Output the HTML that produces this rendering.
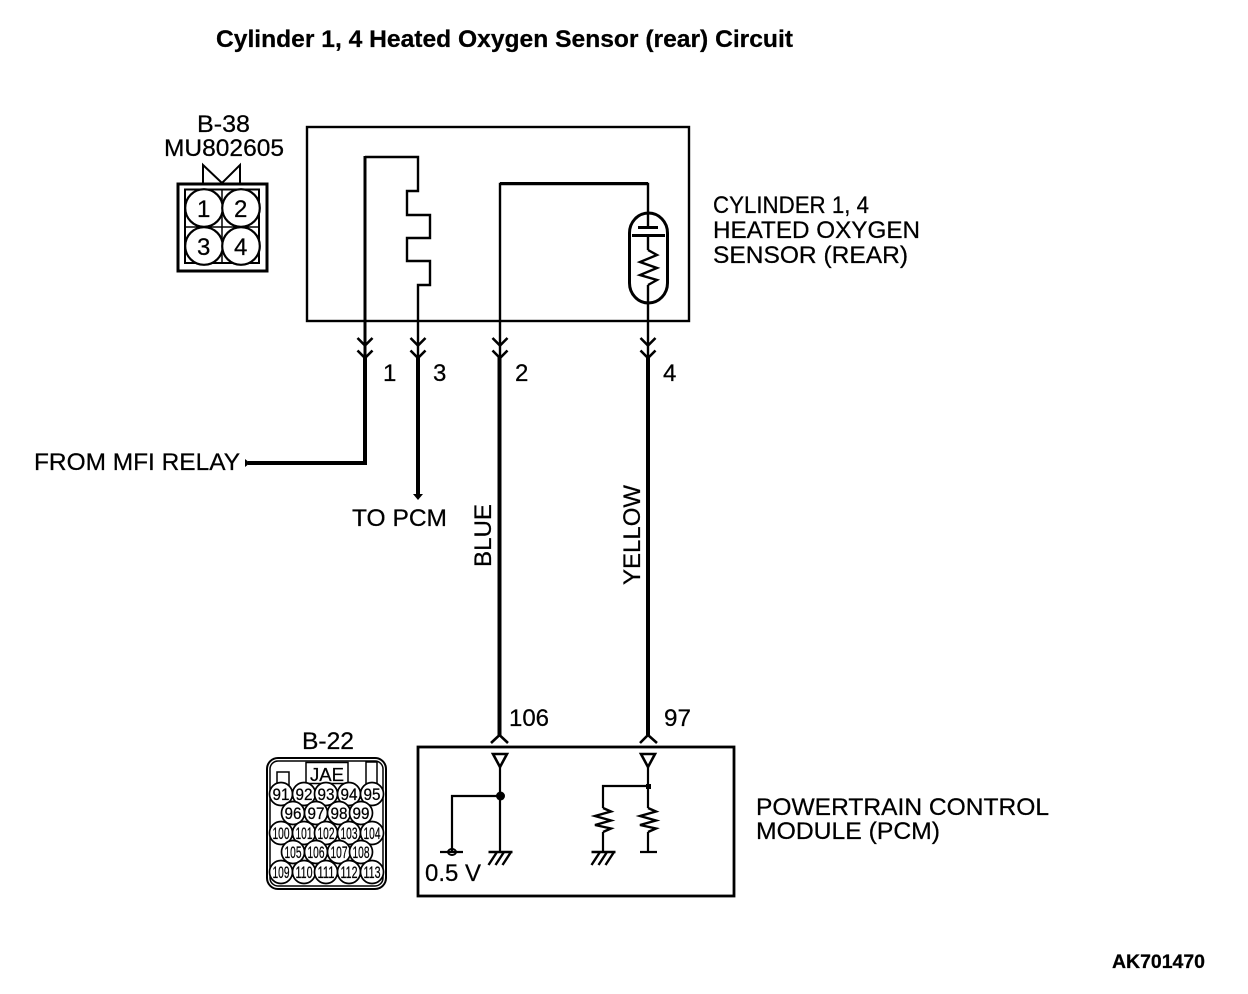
<!DOCTYPE html>
<html><head><meta charset="utf-8"><style>
html,body{margin:0;padding:0;background:#fff}
svg{display:block}
text{font-family:"Liberation Sans",sans-serif;fill:#000;stroke:#000;stroke-width:.25px}
</style></head><body>
<svg width="1248" height="994" viewBox="0 0 1248 994" xmlns="http://www.w3.org/2000/svg">
<defs>
<g id="res" fill="none" stroke="#000" stroke-width="2.4"><path d="M0 0L8 3.500L-8 8L8 12.500L-8 17L8 20.500L0 24"/></g>
<g id="res2" fill="none" stroke="#000" stroke-width="2.4"><path d="M0 0L9 5L-8 12L9 18L-8 25L9 30L0 35"/></g>
<g id="gnd" fill="none" stroke="#000" stroke-width="2.400"><path d="M-11.500 0H12.500M-3 0L-11.500 13M4 0L-4.500 13M11 0L2.500 13"/></g>
<g id="chev" fill="none" stroke="#000" stroke-width="2.600"><path d="M-7.500 0L0 7.500L7.500 0M-7.500 12.500L0 20L7.500 12.500"/></g>
<g id="tri" fill="none" stroke="#000" stroke-width="2.600"><path d="M-7 0H7L0 13Z"/></g>
</defs>
<text x="216" y="47" font-size="24" font-weight="bold" textLength="577" lengthAdjust="spacingAndGlyphs">Cylinder 1, 4 Heated Oxygen Sensor (rear) Circuit</text>

<g fill="none" stroke="#000">
<rect x="307" y="127" width="382" height="194" stroke-width="2.400"/>
<!-- heater -->
<path d="M365 157H418V191H407V215H430V238H407V261H430V285H418V358" stroke-width="2.400"/>
<path d="M365 156V358" stroke-width="3"/>
<path d="M365 356V463H248" stroke-width="4"/>
<path d="M418 356V497" stroke-width="4"/>
<!-- sensor wire -->
<path d="M500 358V184H648V227" stroke-width="2.400"/>
<path d="M500 183.500H648" stroke-width="3"/>
<path d="M648 235V250M648 285V358" stroke-width="2.400"/>
<rect x="629.500" y="213" width="38" height="90" rx="19" ry="20" stroke-width="3"/>
<path d="M638 227.500H658" stroke-width="3"/>
<path d="M632 235.500H665" stroke-width="3"/>
<path d="M499.500 356V735M648 356V735" stroke-width="4"/>
<!-- PCM -->
<rect x="418" y="747" width="316" height="149" stroke-width="2.800"/>
<path d="M491 743L499.500 735L508 743M640 743L648 735L657 743" stroke-width="2.600"/>
<path d="M500 766V852M500 796H452V852M440 852H463" stroke-width="2.200"/>
<path d="M648 766V808M648 786H603V808M603 832V852M648 832V852M640 852H657" stroke-width="2.200"/>
<ellipse cx="452" cy="852" rx="4" ry="3" stroke-width="2"/>
<!-- B-38 -->
<rect x="178" y="184" width="89" height="87" stroke-width="3"/>
<rect x="185" y="189.500" width="74" height="73.500" stroke-width="2"/>
<path d="M222 189V263M185 227H259" stroke-width="1.500"/>
<path d="M203 183V165L222 183L240 165V183" stroke-width="2"/>
<circle cx="204" cy="208" r="18.800" stroke-width="2.200" fill="#fff"/>
<circle cx="241" cy="208" r="18.800" stroke-width="2.200" fill="#fff"/>
<circle cx="204" cy="246" r="18.800" stroke-width="2.200" fill="#fff"/>
<circle cx="241" cy="246" r="18.800" stroke-width="2.200" fill="#fff"/>
<!-- B-22 -->
<rect x="267" y="758" width="119" height="131" rx="11" stroke-width="2"/>
<rect x="270" y="761" width="113" height="125" rx="8" stroke-width="1.500"/>
<rect x="306" y="762.500" width="42" height="21" stroke-width="1.500" fill="#fff"/>
<rect x="277" y="772" width="12" height="14" stroke-width="1.500" fill="#fff"/>
<rect x="366" y="762" width="11" height="24" stroke-width="1.500" fill="#fff"/>
<g stroke-width="1.700" fill="#fff">
<circle cx="281" cy="794" r="11.500"/><circle cx="304" cy="794" r="11.500"/><circle cx="326" cy="794" r="11.500"/><circle cx="349" cy="794" r="11.500"/><circle cx="372" cy="794" r="11.500"/>
<circle cx="293" cy="813" r="11.500"/><circle cx="316" cy="813" r="11.500"/><circle cx="339" cy="813" r="11.500"/><circle cx="361" cy="813" r="11.500"/>
<circle cx="281" cy="833" r="11.500"/><circle cx="304" cy="833" r="11.500"/><circle cx="326" cy="833" r="11.500"/><circle cx="349" cy="833" r="11.500"/><circle cx="372" cy="833" r="11.500"/>
<circle cx="293" cy="852" r="11.500"/><circle cx="316" cy="852" r="11.500"/><circle cx="339" cy="852" r="11.500"/><circle cx="361" cy="852" r="11.500"/>
<circle cx="281" cy="872" r="11.500"/><circle cx="304" cy="872" r="11.500"/><circle cx="326" cy="872" r="11.500"/><circle cx="349" cy="872" r="11.500"/><circle cx="372" cy="872" r="11.500"/>
</g>
</g>

<use href="#chev" x="365" y="338"/>
<use href="#chev" x="418" y="338"/>
<use href="#chev" x="500" y="338"/>
<use href="#chev" x="648" y="338"/>
<use href="#tri" x="500" y="754"/>
<use href="#tri" x="648" y="754"/>
<use href="#res2" x="648" y="250"/>
<use href="#res" x="603" y="808"/>
<use href="#res" x="648" y="808"/>
<use href="#gnd" x="500" y="852"/>
<use href="#gnd" x="603" y="852"/>
<circle cx="500.500" cy="796" r="4.500"/>
<rect x="646" y="784" width="5" height="5"/>
<path d="M245 459L250 463L245 467Z"/>
<path d="M413 494H423L418 500Z"/>

<g font-size="24">
<text x="197" y="132" textLength="53" lengthAdjust="spacingAndGlyphs">B-38</text>
<text x="164" y="156" textLength="120" lengthAdjust="spacingAndGlyphs">MU802605</text>
<text x="713" y="213" textLength="156" lengthAdjust="spacingAndGlyphs">CYLINDER 1, 4</text>
<text x="713" y="238" textLength="207" lengthAdjust="spacingAndGlyphs">HEATED OXYGEN</text>
<text x="713" y="263" textLength="195" lengthAdjust="spacingAndGlyphs">SENSOR (REAR)</text>
<text x="383" y="381">1</text>
<text x="433" y="381">3</text>
<text x="515" y="381">2</text>
<text x="663" y="381">4</text>
<text x="34" y="470" textLength="206" lengthAdjust="spacingAndGlyphs">FROM MFI RELAY</text>
<text x="352" y="526" textLength="95" lengthAdjust="spacingAndGlyphs">TO PCM</text>
<text transform="translate(491,567) rotate(-90)" textLength="63" lengthAdjust="spacingAndGlyphs">BLUE</text>
<text transform="translate(640,585) rotate(-90)" textLength="100" lengthAdjust="spacingAndGlyphs">YELLOW</text>
<text x="509" y="726" textLength="40" lengthAdjust="spacingAndGlyphs">106</text>
<text x="664" y="726" textLength="27" lengthAdjust="spacingAndGlyphs">97</text>
<text x="302" y="749" textLength="52" lengthAdjust="spacingAndGlyphs">B-22</text>
<text x="756" y="815" textLength="293" lengthAdjust="spacingAndGlyphs">POWERTRAIN CONTROL</text>
<text x="756" y="839" textLength="184" lengthAdjust="spacingAndGlyphs">MODULE (PCM)</text>
<text x="425" y="881" textLength="56" lengthAdjust="spacingAndGlyphs">0.5 V</text>
<text x="197" y="217">1</text>
<text x="234" y="217">2</text>
<text x="197" y="255">3</text>
<text x="234" y="255">4</text>
</g>
<text x="310" y="781" font-size="18" textLength="34" lengthAdjust="spacingAndGlyphs">JAE</text>
<g font-size="17" text-anchor="middle">
<text x="281" y="800" textLength="17" lengthAdjust="spacingAndGlyphs">91</text><text x="304" y="800" textLength="17" lengthAdjust="spacingAndGlyphs">92</text><text x="326" y="800" textLength="17" lengthAdjust="spacingAndGlyphs">93</text><text x="349" y="800" textLength="17" lengthAdjust="spacingAndGlyphs">94</text><text x="372" y="800" textLength="17" lengthAdjust="spacingAndGlyphs">95</text>
<text x="293" y="819" textLength="17" lengthAdjust="spacingAndGlyphs">96</text><text x="316" y="819" textLength="17" lengthAdjust="spacingAndGlyphs">97</text><text x="339" y="819" textLength="17" lengthAdjust="spacingAndGlyphs">98</text><text x="361" y="819" textLength="17" lengthAdjust="spacingAndGlyphs">99</text>
<text x="281" y="839" textLength="17" lengthAdjust="spacingAndGlyphs">100</text><text x="304" y="839" textLength="17" lengthAdjust="spacingAndGlyphs">101</text><text x="326" y="839" textLength="17" lengthAdjust="spacingAndGlyphs">102</text><text x="349" y="839" textLength="17" lengthAdjust="spacingAndGlyphs">103</text><text x="372" y="839" textLength="17" lengthAdjust="spacingAndGlyphs">104</text>
<text x="293" y="858" textLength="17" lengthAdjust="spacingAndGlyphs">105</text><text x="316" y="858" textLength="17" lengthAdjust="spacingAndGlyphs">106</text><text x="339" y="858" textLength="17" lengthAdjust="spacingAndGlyphs">107</text><text x="361" y="858" textLength="17" lengthAdjust="spacingAndGlyphs">108</text>
<text x="281" y="878" textLength="17" lengthAdjust="spacingAndGlyphs">109</text><text x="304" y="878" textLength="17" lengthAdjust="spacingAndGlyphs">110</text><text x="326" y="878" textLength="17" lengthAdjust="spacingAndGlyphs">111</text><text x="349" y="878" textLength="17" lengthAdjust="spacingAndGlyphs">112</text><text x="372" y="878" textLength="17" lengthAdjust="spacingAndGlyphs">113</text>
</g>
<text x="1112" y="968" font-size="19" font-weight="bold" textLength="93" lengthAdjust="spacingAndGlyphs">AK701470</text>
</svg>
</body></html>
